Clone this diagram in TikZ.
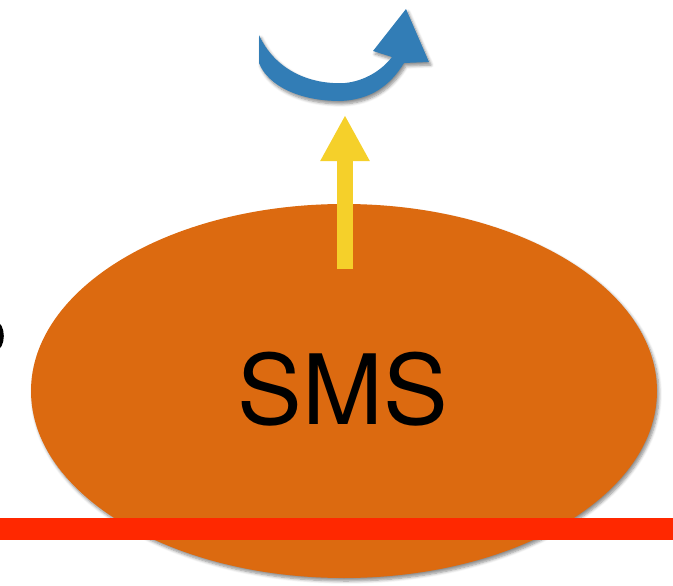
\documentclass[tikz,border=0pt]{standalone}
\usepackage{fontspec}
\setmainfont{TeX Gyre Heros}
\usetikzlibrary{shapes.geometric,arrows.meta,shadows.blur}
\definecolor{smsorange}{RGB}{220,106,16}
\definecolor{barred}{RGB}{255,40,0}
\definecolor{upyellow}{RGB}{245,208,42}
\definecolor{turnblue}{RGB}{50,125,182}
\tikzset{
  softshadow/.style={blur shadow={shadow xshift=2pt,shadow yshift=-3pt,shadow blur steps=6,shadow blur radius=3pt,shadow opacity=45}},
  smsbody/.style={ellipse,fill=smsorange,minimum width=626pt,minimum height=374pt,inner sep=0pt,softshadow},
  uparrow/.style={draw=upyellow,line width=16pt,-{Triangle[width=46pt,length=46pt]}},
  baseline/.style={fill=barred},
  turnarrow/.style={fill=turnblue,softshadow}
}
\begin{document}
\begin{tikzpicture}[x=1pt,y=-1pt]
\useasboundingbox (0,0) rectangle (673,586);
% ellipse
\node[smsbody] (sms) at (344,391) {};
\node[inner sep=0pt,font=\fontsize{97}{100}\selectfont] (label) at (343,389.5) {SMS};
% left-edge fragment
\draw[line width=3.6pt] (-5,349) arc[start angle=90,end angle=-90,x radius=7,y radius=13];
% yellow arrow
\coordinate (ytail) at (345,269);
\coordinate (ytip) at (345,115);
\draw[uparrow] (ytail) -- (ytip);
% red bar
\coordinate (barL) at (0,518);
\coordinate (barR) at (673,539.5);
\fill[baseline] (barL) rectangle (barR);
% blue curved arrow
\path[turnarrow] (259,35) .. controls (275,70) and (310,85) .. (345,83)
  .. controls (365,81) and (382,70) .. (392,57) -- (373,51) -- (406,9) -- (429,62) -- (404,63)
  .. controls (390,86) and (370,100) .. (340,101)
  .. controls (300,101) and (268,86) .. (259,63) -- cycle;
\end{tikzpicture}
\end{document}
